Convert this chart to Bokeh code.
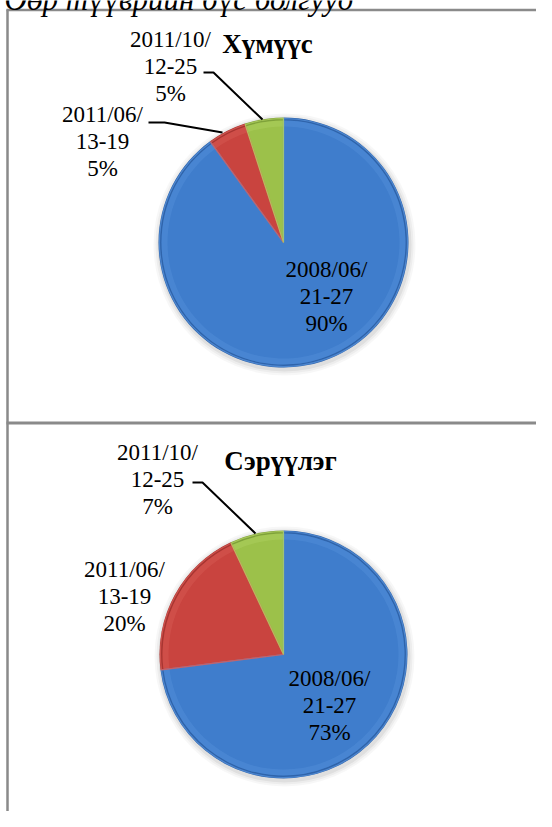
import numpy as np
from bokeh.plotting import figure
from bokeh.models import Range1d
from bokeh.core.properties import value
from bokeh.embed import file_html
from bokeh.resources import INLINE

# ---- data ----
periods = ["2008/06/21-27", "2011/06/13-19", "2011/10/12-25"]
humuus_share = [90, 5, 5]
seruuleg_share = [73, 20, 7]
titles = ["Хүмүүс", "Сэрүүлэг"]
caption = "Өөр түүврийн бүс болгууд"

# ---- styles ----
dark_colors = ["#2f64ab", "#a83531", "#7fa23a"]
main_colors = ["#3f7dcc", "#c9443f", "#9cc14a"]
light_colors = ["#5590da", "#d85a55", "#b0d062"]
FONT = "Liberation Serif"

W, H = 536, 811
p = figure(width=W, height=H, x_range=Range1d(0, W), y_range=Range1d(0, H),
           output_backend="svg", toolbar_location=None, min_border=0)
p.xaxis.visible = False
p.yaxis.visible = False
p.xgrid.visible = False
p.ygrid.visible = False
p.outline_line_color = None
p.background_fill_color = "white"
p.border_fill_color = "white"


def Y(v):
    return H - v


# table lines
grid_col = "#8a8a8a"
p.line(x=[6, W], y=[Y(9.5), Y(9.5)], line_color=grid_col, line_width=2.5)
p.line(x=[6, W], y=[Y(422.5), Y(422.5)], line_color=grid_col, line_width=3)
p.line(x=[7, 7], y=[Y(9), Y(H)], line_color=grid_col, line_width=2.5)

# caption (cut at the top, as in the reference)
p.text(x=[4], y=[Y(-1)], text=[caption], text_font=value(FONT), text_font_style="italic",
       text_font_size="31px", text_align="left", text_baseline="alphabetic", text_color="black")


def draw_pie(cx, cy_ref, r, shares):
    cy = Y(cy_ref)
    frac = np.array(shares, dtype=float) / sum(shares)
    cum = np.concatenate([[0.0], np.cumsum(frac)])
    start = list(np.pi / 2 - cum[1:] * 2 * np.pi)
    end = list(np.pi / 2 - cum[:-1] * 2 * np.pi)
    # soft shadow
    for k, a in [(6, 0.03), (4, 0.04), (2, 0.06)]:
        p.circle(x=[cx + 1], y=[cy - 2], radius=r + k, fill_color="black", fill_alpha=a,
                 line_color=None)
    p.wedge(x=cx, y=cy, radius=r, start_angle=start, end_angle=end,
            fill_color=dark_colors, line_color=None)
    p.wedge(x=cx, y=cy, radius=r - 3, start_angle=start, end_angle=end,
            fill_color=main_colors, line_color=None)
    p.annular_wedge(x=cx, y=cy, inner_radius=r - 9, outer_radius=r - 3,
                    start_angle=start, end_angle=end,
                    fill_color=light_colors, fill_alpha=0.45, line_color=None)
    p.wedge(x=cx, y=cy, radius=r - 1, start_angle=start, end_angle=end,
            fill_color=None, line_color=light_colors, line_width=1.2, line_alpha=0.8)


def draw_labels(shares, label_pos, title, title_pos, leaders):
    xs, ys, ts = [], [], []
    for i, (lx, ly) in enumerate(label_pos):
        d = periods[i]
        lines = [d[:8], d[8:], f"{shares[i]}%"]
        for j, t in enumerate(lines):
            xs.append(lx)
            ys.append(Y(ly + j * 27))
            ts.append(t)
    p.text(x=xs, y=ys, text=ts, text_font=value(FONT), text_font_size="23px",
           text_align="center", text_baseline="middle", text_color="black")
    p.text(x=[title_pos[0]], y=[Y(title_pos[1])], text=[title], text_font=value(FONT),
           text_font_style="bold", text_font_size="27px", text_align="center",
           text_baseline="middle", text_color="black")
    for pts in leaders:
        p.line(x=[q[0] for q in pts], y=[Y(q[1]) for q in pts], line_color="black",
               line_width=2)


# top pie: Хүмүүс
draw_pie(283, 242, 125, humuus_share)
draw_labels(humuus_share, [(326, 269), (102, 114), (170, 39)], titles[0], (267, 43),
            [[(203, 72), (213, 72), (262, 119)], [(148, 122), (164, 122), (222, 132)]])

# bottom pie: Сэрүүлэг
draw_pie(283, 654, 124, seruuleg_share)
draw_labels(seruuleg_share, [(329, 678), (124, 569), (157, 452)], titles[1], (280, 460),
            [[(192, 482), (202, 482), (255, 533)]])

open("out.html", "w").write(file_html(p, INLINE))
